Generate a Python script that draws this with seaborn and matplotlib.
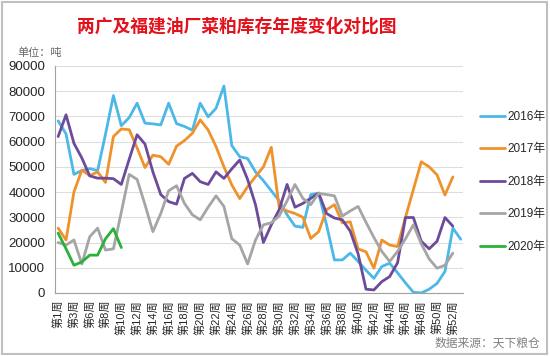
import numpy as np
import pandas as pd
import seaborn as sns
import matplotlib.pyplot as plt
from matplotlib.patches import Rectangle

nan = np.nan

years = ['2016年', '2017年', '2018年', '2019年', '2020年']
colors = ['#4cb8e8', '#f0922c', '#6b4b9a', '#a5a5a5', '#2ab13a']

s2016 = [68200, 63000, 47000, 48500, 49300, 48500, 63000, 78200, 66300, 69500,
         75200, 67300, 67000, 66600, 75200, 67100, 66000, 64500, 75200, 69800,
         73200, 82000, 58400, 54000, 53300, 48000, 44500, 40500, 36500, 31000,
         26500, 26000, 39000, 39500, 27000, 13100, 13100, 15800, 12500, 9000,
         5800, 10500, 11800, 8000, 4000, 300, 0, 1500, 3800, 8500,
         25700, 21300]
s2017 = [25700, 21000, 40000, 48700, 46500, 48000, 43800, 62000, 65000, 64700,
         57500, 49700, 54600, 54000, 51000, 58200, 60400, 63300, 68600, 64600,
         58000, 50000, 42800, 37400, 42100, 46100, 50000, 57700, 34000, 32500,
         31500, 30000, 21600, 24300, 33000, 35000, 27800, 28200, 17500, 16300,
         9800, 21000, 19000, 18400, 30000, 41000, 52000, 50000, 46800, 38800,
         46000, nan]
s2018 = [62000, 70600, 59300, 53500, 46400, 45500, 45500, 45300, 43000, 53000,
         62700, 59000, 48000, 39000, 36200, 35200, 45400, 47400, 44100, 43000,
         48000, 45400, 49200, 52700, 45000, 35000, 20000, 27000, 33000, 43000,
         34000, 35500, 37500, 39600, 31500, 29700, 29000, 24500, 15500, 1500,
         1200, 4500, 6500, 12000, 29900, 29900, 20500, 17500, 20500, 29900,
         26500, nan]
s2019 = [20000, 19000, 21000, 11500, 22300, 25700, 17000, 17500, 32000, 47000,
         45000, 35000, 24300, 31500, 40500, 42500, 35500, 31000, 29000, 34000,
         38500, 34300, 21500, 19000, 11500, 21000, 27000, 27800, 30500, 36500,
         43000, 37500, 35000, 39500, 39000, 38500, 30500, 32500, 34300, 28000,
         22000, 16500, 12500, 16500, 21500, 27000, 19500, 13500, 9800, 11000,
         15800, nan]
s2020 = [23700, 17500, 11000, 12300, 15000, 15000, 21500, 25500, 18000] + [nan] * 43

tick_labels = ['第1周', '第3周', '第6周', '第8周'] + ['第%d周' % w for w in range(10, 53, 2)]

df = pd.DataFrame({'week': range(52), '2016年': s2016, '2017年': s2017,
                   '2018年': s2018, '2019年': s2019, '2020年': s2020})
df = df.melt(id_vars='week', var_name='year', value_name='stock').dropna()

sns.set_style('white')
plt.rcParams['font.family'] = ['Liberation Sans', 'Noto Sans CJK SC']

fig = plt.figure(figsize=(5.5, 3.56), dpi=100)
ax = fig.add_axes([0.1, 0.177, 0.742, 0.638])

sns.lineplot(data=df, x='week', y='stock', hue='year', hue_order=years,
             palette=colors, linewidth=2.0, ax=ax)

ax.set_ylim(0, 90000)
ax.set_xlim(-0.4, 51.3)
ax.set_yticks(range(0, 90001, 10000))
ax.set_yticklabels([str(v) for v in range(0, 90001, 10000)], fontsize=9.5, color='#262626')
ax.set_xticks(range(52))
labels = [''] * 52
for k, t in enumerate(tick_labels):
    labels[2 * k] = t
ax.set_xticklabels(labels, rotation=90, fontsize=8, color='#262626')
ax.tick_params(axis='x', length=3, width=0.8, color='#999999', pad=2)
ax.tick_params(axis='y', length=3, width=0.8, color='#999999', pad=4)
ax.yaxis.grid(True, color='#dedede', linewidth=0.8)
ax.set_axisbelow(True)
ax.set_xlabel('')
ax.set_ylabel('')
for side in ['top', 'right']:
    ax.spines[side].set_visible(False)
for side in ['left', 'bottom']:
    ax.spines[side].set_color('#a0a0a0')
    ax.spines[side].set_linewidth(0.8)

handles, labs = ax.get_legend_handles_labels()
ax.legend(handles, labs, loc='upper left', bbox_to_anchor=(0.873, 0.689),
          bbox_transform=fig.transFigure, frameon=False, fontsize=8.5,
          labelspacing=1.74, handlelength=2.1, handletextpad=0.2,
          borderpad=0, borderaxespad=0, labelcolor='#262626')

# title: fit it to the span it takes in the reference (x 77..398 px)
title = fig.text(77 / 550, 0.924, '两广及福建油厂菜粕库存年度变化对比图', ha='left', va='center',
                 fontsize=15, fontweight='bold', color='#e3111b', family=['Noto Sans CJK SC'])
fig.canvas.draw()
w = title.get_window_extent().width
title.set_fontsize(15 * 321 / w)

fig.text(0.031, 0.853, '单位：吨', ha='left', va='center', fontsize=8,
         color='#666666', family=['Noto Sans CJK SC'])
fig.text(0.982, 0.036, '数据来源：天下粮仓', ha='right', va='center', fontsize=8.5,
         color='#808080', style='italic', family=['Noto Sans CJK SC'])

fig.patches.append(Rectangle((0.004, 0.006), 0.991, 0.988, transform=fig.transFigure,
                             fill=False, edgecolor='#c0c0c0', linewidth=1.5))

fig.savefig('out.png', dpi=100)
